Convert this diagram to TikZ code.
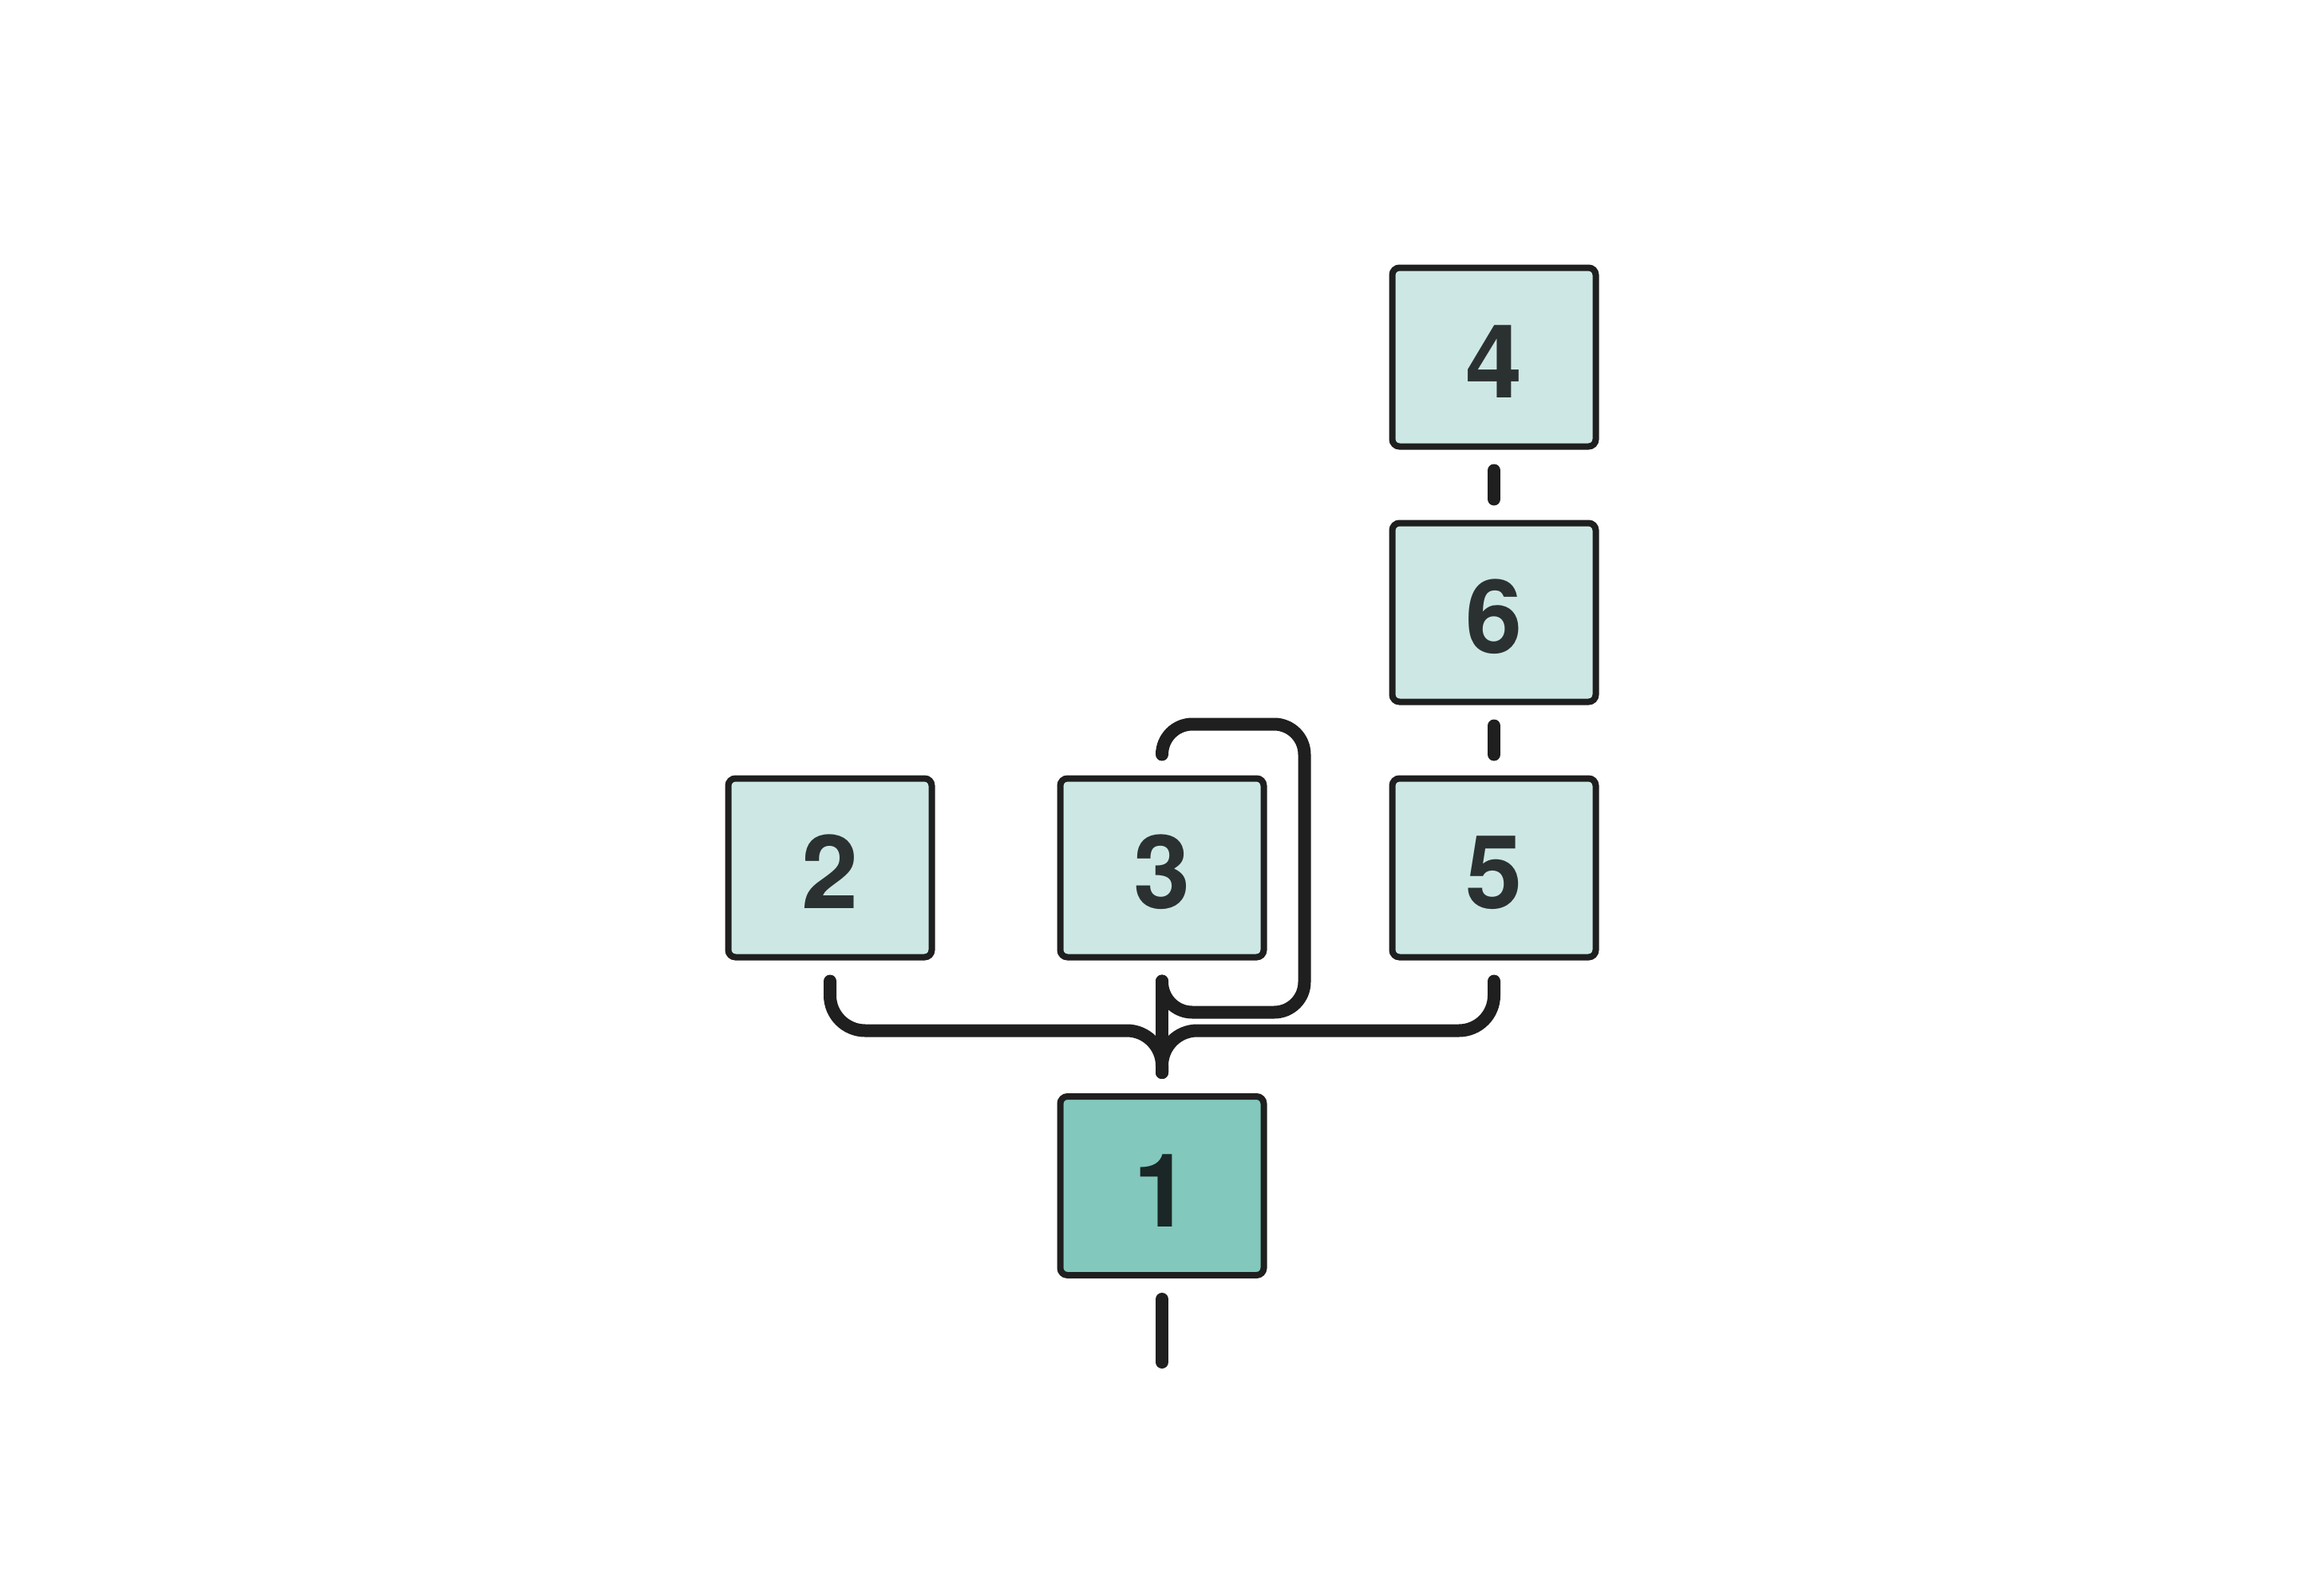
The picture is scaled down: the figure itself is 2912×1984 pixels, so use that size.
\documentclass[tikz,border=0pt]{standalone}
\usepackage{fontspec}
\setmainfont{TeX Gyre Heros}
\definecolor{inkline}{HTML}{1F1F1F}
\definecolor{paleteal}{HTML}{CDE8E4}
\definecolor{deepteal}{HTML}{82C8BD}
\definecolor{digitgray}{HTML}{2B3131}
\definecolor{digitdark}{HTML}{1B2626}
\begin{document}
\begin{tikzpicture}
[x=1pt,y=-1pt,
  blockdecorate/.style={shape=rectangle,rounded corners=9pt,draw=inkline,
    line width=8pt,fill=paleteal,text=digitgray,inner sep=0pt,
    minimum width=255pt,minimum height=224pt,text height=102pt,text depth=0pt,
    font=\fontsize{128}{128}\selectfont\bfseries},%
  entrydecorate/.style={blockdecorate,fill=deepteal,text=digitdark},%
  linkdecorate/.style={-,draw=inkline,line width=16pt,line cap=round}]
\useasboundingbox (0,0) rectangle (2912,1984);
%% blocks
\foreach \nodename/\label/\x/\y in {n2/2/1040/1087.5, n3/3/1456/1087.5,
  n5/5/1872/1087.5, n6/6/1872/767.5, n4/4/1872/447.5} {
  \node (\nodename) at (\x,\y) [blockdecorate] {\label};
}
\node (n1) at (1456,1486) [entrydecorate] {1};
%% connector ends
\foreach \nodename in {n1, n2, n3, n4, n5, n6} {
  \coordinate (\nodename-out) at ([yshift=-26pt]\nodename.south);
  \coordinate (\nodename-in) at ([yshift=26pt]\nodename.north);
}
\coordinate (bus) at ([yshift=-62pt]n3-out);
\coordinate (exit) at ([yshift=-105pt]n1.south);
\coordinate (loopcorner) at ([xshift=47pt,yshift=64pt]n3.north east);
%% edges
\path
\foreach \startnode/\endnode in {n4/n6, n6/n5, n3/n1} {
  (\startnode-out) edge[linkdecorate] (\endnode-in)
};
\draw[linkdecorate] (n1-out) -- (exit);
\draw[linkdecorate,rounded corners=44pt] (n2-out) |- (bus) -- (n1-in);
\draw[linkdecorate,rounded corners=44pt] (n5-out) |- (bus) -- (n1-in);
\draw[linkdecorate,rounded corners=38pt] (n3-out) -- ++(0,39) -| (loopcorner)
  -| (n3-in);
\end{tikzpicture}
\end{document}
